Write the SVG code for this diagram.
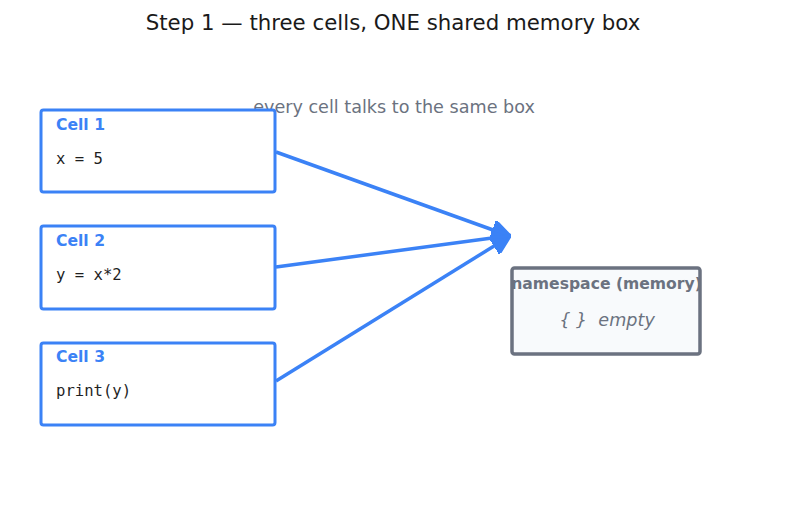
<svg xmlns="http://www.w3.org/2000/svg" width="787" height="508" viewBox="0 0 787 508">
<defs>
<style>
.cell rect{fill:#ffffff;stroke:#3b82f6;stroke-width:3}
.lbl{font-family:"DejaVu Sans",sans-serif;font-weight:bold;font-size:15.6px;fill:#3b82f6}
.code{font-family:"DejaVu Sans Mono",monospace;font-size:15.6px;fill:#1f1f1f}
.conn line{stroke:#3b82f6;stroke-width:3.5}
</style>
<marker id="ah" viewBox="0 0 10 10" refX="8" refY="5" markerWidth="5.5" markerHeight="5.5" orient="auto" markerUnits="strokeWidth">
<path d="M0,0 L10,5 L0,10 Z" fill="#3b82f6" stroke="#3b82f6" stroke-width="1.5" stroke-linejoin="round"/>
</marker>
</defs>
<rect width="787" height="508" fill="#ffffff"/>
<text x="393" y="30" text-anchor="middle" font-family="DejaVu Sans,sans-serif" font-size="21.3" fill="#1a1a1a">Step 1 — three cells, ONE shared memory box</text>
<text x="394" y="113" text-anchor="middle" font-family="DejaVu Sans,sans-serif" font-size="17.6" fill="#6b7280">every cell talks to the same box</text>
<g id="cell1" class="cell">
<rect x="41" y="110" width="234" height="82" rx="2.5"/>
<text class="lbl" x="56" y="130">Cell 1</text>
<text class="code" x="56" y="164">x = 5</text>
</g>
<g id="cell2" class="cell">
<rect x="41" y="226" width="234" height="83" rx="2.5"/>
<text class="lbl" x="56" y="246">Cell 2</text>
<text class="code" x="56" y="280">y = x*2</text>
</g>
<g id="cell3" class="cell">
<rect x="41" y="343" width="234" height="82" rx="2.5"/>
<text class="lbl" x="56" y="362">Cell 3</text>
<text class="code" x="56" y="396">print(y)</text>
</g>
<g id="namespace">
<rect x="512" y="268" width="188" height="86" rx="2.5" fill="#f8fafc" stroke="#6b7280" stroke-width="3.5"/>
<text x="606.5" y="289" text-anchor="middle" font-family="DejaVu Sans,sans-serif" font-weight="bold" font-size="15.6" fill="#6b7280">namespace (memory)</text>
<text x="607" y="326" text-anchor="middle" font-family="DejaVu Sans,sans-serif" font-style="italic" font-size="17.6" fill="#6b7280" xml:space="preserve" style="white-space:pre">{ }  empty</text>
</g>
<g id="connectors" class="conn">
<line x1="276" y1="152" x2="507" y2="235" marker-end="url(#ah)"/>
<line x1="276" y1="267" x2="507" y2="236" marker-end="url(#ah)"/>
<line x1="276" y1="381" x2="507" y2="238" marker-end="url(#ah)"/>
</g>
</svg>
